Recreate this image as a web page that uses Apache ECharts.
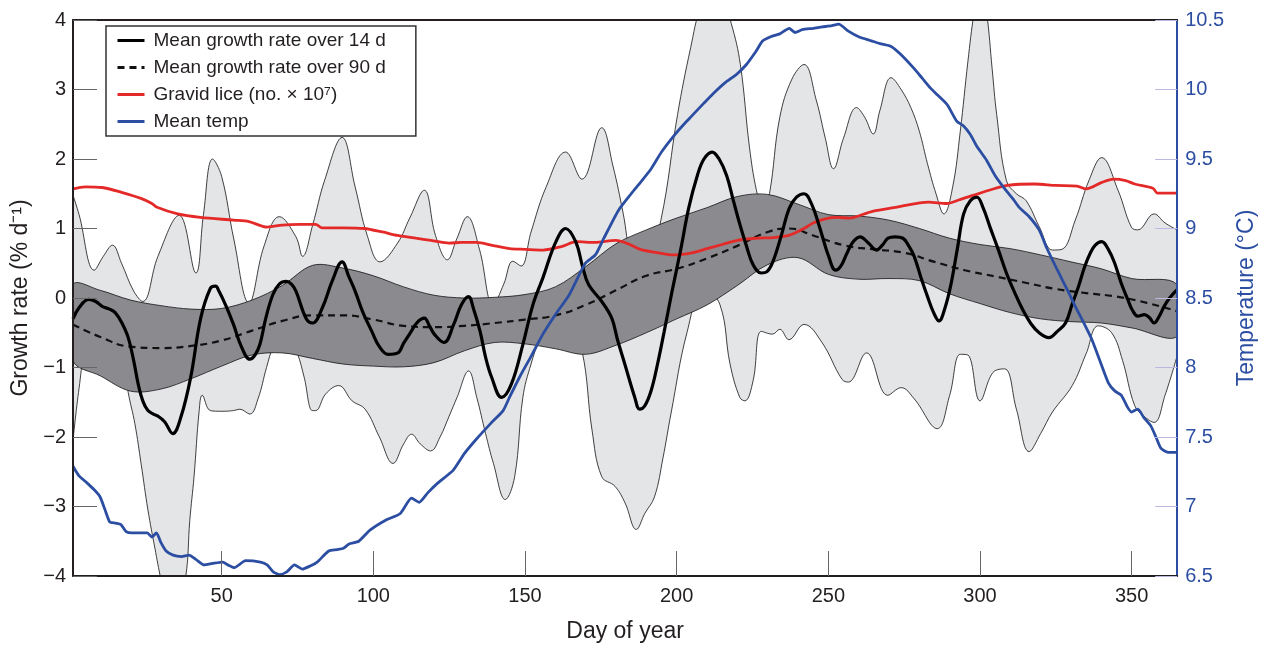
<!DOCTYPE html>
<html><head><meta charset="utf-8">
<script src="https://cdn.jsdelivr.net/npm/echarts@6/dist/echarts.min.js"></script>
<style>html,body{margin:0;padding:0;background:#fff}#c{width:1266px;height:648px}</style>
</head><body><div id="c"></div>
<script>
// ---- data ----
const xTicks = [50, 100, 150, 200, 250, 300, 350];

const lightUpperDays = [1,3,8,11,14,17,21,24,29,36,41.5,44,47,50,54,59,64,69,74.5,76.7,80,84,89.7,94,98,102.2,108,112,116.8,120.5,124.4,127.5,131,135,139.5,143,146,148.7,152,157,163.4,168.8,175.3,179,182.4,185,189,194.8,200.3,204.6,208,213,218,221,224,226.3,228.5,230.6,234,238,242,246,249,251.7,255,259.3,262,264.8,267,270.7,274,277.2,280,282.7,285.5,288.1,291,293.5,296,298,300,302.2,304,305.5,308.7,312,315.2,319.5,323.9,327,331.4,336,340.1,345.5,349.9,352,357.4,361,365];
const lightUpper = [1.48,1.2,0.40,0.6,0.76,0.5,0.1,-0.05,0.6,1.19,0.36,1.2,2.0,1.75,0.85,-0.07,0.75,1.17,0.88,0.6,1.05,1.7,2.31,1.6,0.9,0.52,0.79,1.15,1.55,0.9,0.55,0.85,1.17,0.7,-0.1,0.2,0.53,0.46,0.95,1.6,2.10,1.71,2.45,1.9,1.21,0.6,0.3,1.12,2.64,3.6,4.2,4.6,3.95,3.36,2.17,1.55,1.25,1.5,2.6,3.15,3.36,2.85,2.3,1.86,2.3,2.74,2.6,2.36,2.7,3.17,3.0,2.74,2.4,1.93,1.5,1.21,1.6,2.40,3.4,4.1,4.6,4.1,3.3,2.64,1.69,1.5,1.40,1.03,0.69,0.7,1.12,1.7,2.02,1.55,1.02,0.98,1.21,1.08,0.98];

const lightLowerDays = [1,3,5,9,14,18,19.2,21.4,23.5,25.7,28,30,33,35,38.2,39.5,40.9,42.6,43.6,46.3,50,53.9,56,59.3,62,64.8,67,71,75,77.2,79.9,81,84.3,88.6,93,97.3,102,106.5,110,112.6,115.5,118.9,122,125,127.6,131.4,134.1,137,139.6,143.5,146.6,149.3,152,155,160,165,168.8,172.1,175.3,179.7,183,186.7,189.5,192.7,195.5,198.1,203.5,209,214.3,217.6,220.8,222.5,225.2,227.9,231.6,234,237,242,247.9,254.5,256.6,262.6,269.6,274,278.3,285.9,290,293.5,296,300,304.3,308.1,312,316.2,320,323.9,330.4,335,339,343.4,347,351,354,357.4,361,365];
const lightLower = [-2.05,-1.3,-0.8,-0.5,-0.5,-1.0,-1.36,-1.81,-2.4,-3.05,-3.6,-4.05,-4.6,-4.6,-4.0,-3.2,-2.57,-1.62,-1.4,-1.62,-1.63,-1.62,-1.6,-1.67,-1.45,-1.0,-0.7,-0.4,-0.8,-1.14,-1.62,-1.62,-1.38,-1.26,-1.48,-1.6,-2.0,-2.38,-2.1,-1.96,-2.1,-2.2,-2.0,-1.7,-1.43,-1.05,-1.43,-1.95,-2.38,-2.9,-2.57,-1.43,-0.95,-0.6,-0.3,-0.45,-0.76,-1.9,-2.57,-2.71,-2.95,-3.33,-3.1,-2.86,-2.3,-1.67,-0.48,0.15,-0.1,-0.95,-1.43,-1.48,-1.19,-0.48,-0.52,-0.45,-0.6,-0.38,-0.64,-1.17,-1.21,-0.79,-1.40,-1.29,-1.45,-1.88,-1.4,-0.81,-0.82,-1.48,-1.07,-1.02,-1.6,-2.21,-1.95,-1.64,-1.26,-0.8,-0.40,-0.50,-0.9,-1.55,-1.7,-1.79,-1.4,-0.83];

const bandDays = [1,10,20,30,40,50,60,70,80,90,100,110,120,130,140,150,160,170,180,190,200,210,220,230,240,250,260,270,280,290,300,310,320,330,340,350,365];
const band90Upper = [0.19,0.11,-0.03,-0.11,-0.16,-0.15,-0.03,0.18,0.47,0.43,0.32,0.16,0.04,0.0,0.01,0.05,0.16,0.45,0.78,0.98,1.15,1.30,1.46,1.49,1.35,1.20,1.18,1.12,1.00,0.86,0.77,0.71,0.62,0.52,0.42,0.28,0.19];
const band90Lower = [-0.90,-1.12,-1.34,-1.31,-1.16,-0.98,-0.82,-0.79,-0.87,-0.95,-0.98,-0.99,-0.93,-0.76,-0.64,-0.66,-0.73,-0.81,-0.68,-0.50,-0.30,-0.10,0.18,0.48,0.58,0.34,0.27,0.28,0.25,0.06,-0.08,-0.21,-0.30,-0.34,-0.36,-0.43,-0.55];

const mean90Days = [1,10,20,30,40,50,60,70,80,90,100,110,120,130,140,150,160,170,180,190,200,210,220,230,237,245,255,265,275,285,295,305,315,325,335,345,355,365];
const mean90 = [-0.38,-0.56,-0.70,-0.72,-0.69,-0.61,-0.47,-0.33,-0.25,-0.25,-0.31,-0.40,-0.42,-0.40,-0.36,-0.31,-0.25,-0.10,0.11,0.32,0.42,0.57,0.75,0.95,1.0,0.90,0.76,0.70,0.65,0.52,0.40,0.31,0.22,0.13,0.07,0.02,-0.07,-0.19];

const mean14Days = [1,3,6.2,8.5,10.6,13,14.9,17,19.2,21,22.5,24,25.7,27.5,29,31.2,33.9,36.6,39.8,43.1,46.3,48,49.1,51.5,53.9,56.5,59.3,61,62.6,64.5,66.9,69,71.3,73,74.5,77.8,80,83.2,86.5,89.7,92,94,96.5,99.5,102,104.9,108.1,110,112.5,114.5,116.8,118.5,120.1,123.3,126.5,129,131.4,133,135.2,137,139,142.3,145.5,149.3,152.6,155.9,160.2,163.4,166.7,169,171,175.3,178.6,180.5,182.9,186.2,187.8,189.5,191.6,193.7,195.9,198.5,201.4,204,206.8,209,211.7,214,216.5,218.7,220.9,223,225.2,227.9,229.8,231.7,234.5,237.1,239.5,242,244.5,246.9,250.1,252.4,254,256.1,258,260.5,263,265.9,267.8,269.7,272,274.6,276.5,278.3,280.5,282.7,284.6,286.5,288.4,290.3,292.5,294.6,296.8,299,301,303.3,306,308.7,311.4,314.1,316.8,319.5,322.7,325.5,328.2,330.3,332.5,334.5,336.3,338,340.1,342.3,344.4,346.5,348.7,350.3,352,354.2,355.8,357.4,359,360.7,362.5,365];
const mean14 = [-0.3,-0.14,-0.02,-0.05,-0.12,-0.16,-0.21,-0.35,-0.57,-0.9,-1.24,-1.48,-1.62,-1.67,-1.70,-1.78,-1.95,-1.71,-1.14,-0.29,0.14,0.17,0.10,-0.12,-0.38,-0.7,-0.88,-0.82,-0.67,-0.3,0.05,0.2,0.24,0.2,0.10,-0.29,-0.36,-0.14,0.25,0.52,0.3,0.10,-0.2,-0.48,-0.7,-0.81,-0.79,-0.65,-0.48,-0.35,-0.29,-0.4,-0.52,-0.64,-0.38,-0.1,0.02,-0.15,-0.48,-0.85,-1.14,-1.43,-1.24,-0.67,-0.10,0.29,0.81,1.0,0.81,0.45,0.19,-0.05,-0.29,-0.6,-0.95,-1.43,-1.60,-1.55,-1.33,-0.95,-0.48,0.1,0.71,1.3,1.76,2.0,2.10,2.0,1.76,1.4,1.05,0.75,0.48,0.36,0.38,0.52,0.9,1.29,1.45,1.5,1.35,1.05,0.6,0.40,0.45,0.64,0.8,0.88,0.8,0.69,0.76,0.86,0.88,0.86,0.75,0.60,0.3,0.02,-0.2,-0.33,-0.15,0.17,0.7,1.21,1.4,1.45,1.3,1.02,0.7,0.36,0.08,-0.17,-0.37,-0.5,-0.57,-0.48,-0.36,-0.1,0.17,0.45,0.64,0.76,0.81,0.7,0.5,0.22,-0.02,-0.18,-0.26,-0.24,-0.28,-0.36,-0.27,-0.12,0.0,0.12];

const liceDays = [1,5,10.6,17,23.6,27,28.5,35.5,43,54,59,65,70,75.6,81,83,90,97,103,108,114,119,125,129,134,140,145,150,156,162,167,173,180,184,188,194,199,205,210,215,220,226,232,237,242,245,249,253,257,264,273,283,289,293,298,303,309,318,325,332,335,340,344,348,351,357,358.5,365];
const lice = [1.57,1.60,1.59,1.52,1.43,1.36,1.31,1.21,1.16,1.12,1.10,1.02,1.05,1.06,1.06,1.01,1.01,1.0,0.95,0.90,0.86,0.83,0.79,0.80,0.80,0.75,0.71,0.70,0.69,0.74,0.81,0.80,0.83,0.78,0.70,0.65,0.62,0.65,0.71,0.77,0.83,0.86,0.87,0.90,1.0,1.08,1.14,1.16,1.15,1.24,1.31,1.38,1.36,1.41,1.48,1.55,1.62,1.64,1.62,1.61,1.57,1.66,1.71,1.69,1.64,1.58,1.51,1.51];

const tempDays = [1,3,5.6,8,9.9,11.5,13.1,15,16.8,18.5,20.5,23,25.5,27,28.5,30,31.7,34,36.7,39.2,41.5,44.2,47,50.4,52,54.2,57.9,62.8,65,67,69.1,71.5,74,76.6,79,81.5,85.3,88,90.2,92,95.2,98.9,103.9,108.9,112.6,115.1,118,121.3,126.3,130,133.8,138.8,142.8,145,148.2,152,155.9,160,164.5,169.9,173.2,176,180.8,185,188,191.6,195,199.2,202.4,205,208.9,212,216,219.8,223,226,228.4,231,234,237.1,239,241.4,245,248,251.2,253.4,256.6,260,264.2,267,270.7,274,278.3,281,283.7,286,289.2,292.4,294.5,296.7,299,302.2,305,308.7,311,313,316,319.5,322,326,329,331.4,334,336.9,339.5,342.3,344.5,346.6,348.5,349.9,352,354,356.3,358,359.6,362,365];
const temp = [7.29,7.22,7.17,7.12,7.07,6.98,6.89,6.88,6.87,6.82,6.81,6.81,6.81,6.78,6.81,6.74,6.68,6.65,6.64,6.65,6.62,6.58,6.59,6.60,6.58,6.56,6.61,6.60,6.58,6.53,6.51,6.53,6.58,6.55,6.57,6.60,6.68,6.69,6.70,6.73,6.75,6.83,6.90,6.95,7.06,7.03,7.10,7.17,7.26,7.38,7.48,7.60,7.69,7.79,7.93,8.08,8.24,8.38,8.52,8.75,8.81,8.93,9.13,9.25,9.33,9.43,9.55,9.67,9.75,9.81,9.90,9.97,10.05,10.11,10.18,10.27,10.35,10.38,10.40,10.44,10.41,10.43,10.44,10.45,10.46,10.47,10.42,10.38,10.35,10.33,10.31,10.25,10.15,10.08,10.01,9.96,9.89,9.77,9.74,9.68,9.59,9.49,9.38,9.27,9.21,9.15,9.09,8.99,8.86,8.68,8.55,8.44,8.33,8.20,8.05,7.89,7.83,7.80,7.72,7.68,7.70,7.64,7.58,7.50,7.42,7.39,7.39];

// ---- chart ----
const pairs = (xs, ys) => xs.map((x, i) => [x, ys[i]]);
const FONT = '"Liberation Sans", Arial, Helvetica, sans-serif';
const INK = '#231f20';
const BLUE = '#2c4ea2';
const chart = echarts.init(document.getElementById('c'), null, {renderer: 'canvas'});

const base = {type: 'line', symbol: 'none', silent: true, xAxisIndex: 0};

// 90-day band drawn as one smooth polygon through the axis scales
function renderBand90(params, api) {
  const cs = params.coordSys;
  const up = bandDays.map((d, i) => api.coord([d, band90Upper[i]]));
  const lo = bandDays.map((d, i) => api.coord([d, band90Lower[i]])).reverse();
  return {
    type: 'polygon',
    shape: {
      points: up.concat(lo), smooth: 0.35,
      smoothConstraint: [[cs.x, cs.y], [cs.x + cs.width, cs.y + cs.height]]
    },
    style: {fill: '#8b8a8e', stroke: '#111', lineWidth: 0.8}
  };
}

chart.setOption({
  animation: false,
  textStyle: {fontFamily: FONT},
  grid: {left: 73, right: 75, top: 20, bottom: 68},
  legend: {
    data: ['Mean growth rate over 14 d', 'Mean growth rate over 90 d', 'Gravid lice (no. \u00d7 10\u2077)', 'Mean temp'],
    orient: 'vertical', left: 106, top: 26,
    padding: [5, 30, 5, 10], itemWidth: 27, itemHeight: 14, itemGap: 8,
    backgroundColor: '#fff', borderColor: '#333', borderWidth: 1.5, borderRadius: 0,
    itemStyle: {opacity: 0, borderWidth: 0},
    lineStyle: {width: 3},
    textStyle: {fontSize: 19, color: INK, fontFamily: FONT, lineHeight: 16, padding: [0, 0, 0, 4]},
    z: 20
  },
  xAxis: [{
    type: 'value', min: 1, max: 365, z: 10,
    axisLine: {onZero: false, lineStyle: {color: INK, width: 2}},
    axisTick: {inside: true, length: 25, customValues: xTicks, lineStyle: {color: '#666', width: 1}},
    axisLabel: {customValues: xTicks, fontSize: 20, color: INK, margin: 10, fontFamily: FONT},
    splitLine: {show: false},
    name: 'Day of year', nameLocation: 'middle', nameGap: 44,
    nameTextStyle: {fontSize: 23, color: INK, fontFamily: FONT}
  }, {
    type: 'value', min: 1, max: 365, position: 'top', z: 10,
    axisLine: {onZero: false, lineStyle: {color: INK, width: 2}},
    axisTick: {show: false}, axisLabel: {show: false}, splitLine: {show: false}
  }],
  yAxis: [{
    type: 'value', min: -4, max: 4, interval: 1, z: 10,
    axisLine: {show: true, onZero: false, lineStyle: {color: INK, width: 2}},
    axisTick: {inside: true, length: 24, lineStyle: {color: '#666', width: 1}},
    axisLabel: {fontSize: 20, color: INK, margin: 7, fontFamily: FONT,
      formatter: v => String(v).replace('-', '\u2212')},
    splitLine: {show: false},
    name: 'Growth rate (% d\u207b\u00b9)', nameLocation: 'middle', nameGap: 35,
    nameTextStyle: {fontSize: 23, color: INK, fontFamily: FONT}
  }, {
    type: 'value', min: 6.5, max: 10.5, interval: 0.5, position: 'right', z: 10,
    axisLine: {show: true, onZero: false, lineStyle: {color: BLUE, width: 2}},
    axisTick: {inside: true, length: 22, lineStyle: {color: '#b9b9e2', width: 1}},
    axisLabel: {fontSize: 20, color: BLUE, margin: 8, fontFamily: FONT},
    splitLine: {show: false},
    name: 'Temperature (\u00b0C)', nameLocation: 'middle', nameGap: 43,
    nameTextStyle: {fontSize: 23, color: BLUE, fontFamily: FONT}
  }],
  series: [
    Object.assign({}, base, {name: 'band14hi', data: pairs(lightUpperDays, lightUpper), smooth: 0.4, z: 1,
      lineStyle: {color: '#111', width: 0.8}, areaStyle: {color: '#e4e5e7', opacity: 1, origin: 'start'}}),
    Object.assign({}, base, {name: 'band14lo', data: pairs(lightLowerDays, lightLower), smooth: 0.4, z: 1,
      lineStyle: {color: '#111', width: 0.8}, areaStyle: {color: '#ffffff', opacity: 1, origin: 'start'}}),
    {type: 'custom', name: 'band90', silent: true, clip: true, z: 2, xAxisIndex: 0, yAxisIndex: 0,
      data: [[bandDays[0], band90Upper[0]]], renderItem: renderBand90},
    Object.assign({}, base, {name: 'Mean growth rate over 90 d', data: pairs(mean90Days, mean90), smooth: 0.5, z: 4,
      itemStyle: {color: '#111'}, lineStyle: {color: '#111', width: 2.2, type: [7, 5]}}),
    Object.assign({}, base, {name: 'Gravid lice (no. \u00d7 10\u2077)', data: pairs(liceDays, lice), smooth: 0.3, z: 5,
      itemStyle: {color: '#e42a28'}, lineStyle: {color: '#e42a28', width: 2.8}}),
    Object.assign({}, base, {name: 'Mean growth rate over 14 d', data: pairs(mean14Days, mean14), smooth: 0.4, z: 6,
      itemStyle: {color: '#000'}, lineStyle: {color: '#000', width: 3.2}}),
    Object.assign({}, base, {name: 'Mean temp', yAxisIndex: 1, data: pairs(tempDays, temp), smooth: 0.2, z: 7,
      itemStyle: {color: BLUE}, lineStyle: {color: BLUE, width: 2.8}})
  ]
});
</script>
</body></html>
